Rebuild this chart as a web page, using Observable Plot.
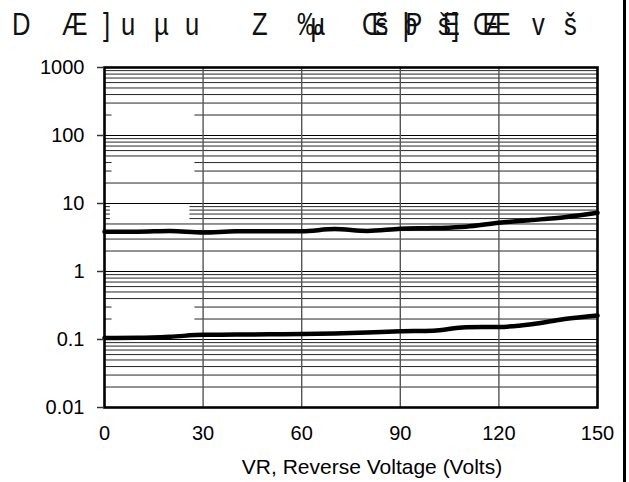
<!DOCTYPE html>
<html><head><meta charset="utf-8">
<script src="https://cdn.jsdelivr.net/npm/d3@7"></script>
<script src="https://cdn.jsdelivr.net/npm/@observablehq/plot@0.6"></script>
<style>
body{margin:0;background:#fff;}
#wrap{position:relative;width:629px;height:482px;overflow:hidden;background:#fff;font-family:"Liberation Sans",Arial,sans-serif;}
#title{position:relative;height:45px;width:629px;}
#title span{position:absolute;top:8px;font-size:32px;line-height:32px;color:#111;white-space:pre;transform-origin:left center;transform:scaleX(0.8);}
#edge{position:absolute;left:623px;top:0;width:3px;height:482px;background:#000;}
svg{display:block;}
</style></head>
<body>
<div id="wrap"><div id="title"></div><div id="chart"></div><div id="edge"></div></div>
<script>
// ---- data ----
const voltage = [0, 10, 20, 30, 40, 50, 60, 70, 80, 90, 100, 110, 120, 130, 140, 150];
const currentHigh = [3.85, 3.85, 3.95, 3.75, 3.9, 3.9, 3.9, 4.2, 3.95, 4.25, 4.35, 4.55, 5.2, 5.7, 6.3, 7.3];
const currentLow = [0.105, 0.106, 0.11, 0.117, 0.118, 0.119, 0.12, 0.123, 0.127, 0.132, 0.135, 0.152, 0.153, 0.168, 0.2, 0.225];
const xTicks = [0, 30, 60, 90, 120, 150];
const yTicks = [0.01, 0.1, 1, 10, 100, 1000];
const yTickLabels = ["0.01", "0.1", "1", "10", "100", "1000"];
const minorFull = [300,400,500,600,700,800,900, 20,50,60,70,80,90, 2,3,4,5, 0.4,0.5,0.6,0.7,0.8,0.9, 0.02,0.03,0.04,0.05,0.06,0.07,0.08,0.09];
const minorPartialA = [200, 30, 40, 0.3, 0.2];
const minorPartialB = [6, 7, 8, 9];
const xLabel = "VR, Reverse Voltage (Volts)";
// garbled title glyph groups (overlapping glyphs kept together in one text)
const titleGroups = ["D", "Æ", "]", "u", "µ", "u", "Z", "‰µ", "Œš", "þP", "šE]", "ŒÆ", "v", "š"];

// ---- title layout ----
const titleX = [12, 62, 103, 121, 154, 185, 252, 297, 362, 403, 438, 473, 532, 564];
const titleSpacing = [0, 0, 0, 0, 0, 0, 0, -15, -15, -15, -10, -17, 0, 0];
const t = document.getElementById("title");
titleGroups.forEach((g, i) => {
  const s = document.createElement("span");
  s.textContent = g;
  s.style.left = titleX[i] + "px";
  s.style.letterSpacing = titleSpacing[i] + "px";
  t.appendChild(s);
});

// ---- chart ----
const rows = voltage.flatMap((v, i) => [
  {v, c: currentHigh[i], s: "high"},
  {v, c: currentLow[i], s: "low"}
]);

const grid = {stroke: "#000", strokeWidth: 1, strokeOpacity: 0.85};

const chart = Plot.plot({
  width: 629,
  height: 437,
  marginLeft: 104,
  marginRight: 32,
  marginTop: 22,
  marginBottom: 75,
  x: {domain: [0, 150]},
  y: {type: "log", domain: [0.01, 1000]},
  style: {fontFamily: "Liberation Sans, Arial, sans-serif", fontSize: "20px", color: "#000", background: "#fff"},
  marks: [
    Plot.ruleY(minorFull, grid),
    Plot.ruleY(minorPartialA, {...grid, x1: 0, x2: 2.3}),
    Plot.ruleY(minorPartialA, {...grid, x1: 27.5, x2: 150}),
    Plot.ruleY(minorPartialB, {...grid, x1: 0, x2: 1.8}),
    Plot.ruleY(minorPartialB, {...grid, x1: 26, x2: 150}),
    Plot.ruleY(yTicks.slice(1, -1), {stroke: "#000", strokeWidth: 1.2}),
    Plot.ruleX(xTicks.slice(1, -1), {stroke: "#555", strokeWidth: 1.4}),
    Plot.line(rows, {x: "v", y: "c", z: "s", stroke: "#000", strokeWidth: 4.5, curve: "monotone-x"}),
    Plot.frame({stroke: "#000", strokeWidth: 2.6}),
    Plot.axisY({ticks: yTicks, tickFormat: d => yTickLabels[yTicks.indexOf(d)], tickSize: 7, tickPadding: 13, label: null, fontSize: 20, stroke: "#333", strokeWidth: 1.5}),
    Plot.axisX({ticks: xTicks, tickFormat: d => String(d), tickSize: 0, tickPadding: 18, label: null, fontSize: 20}),
    Plot.text([xLabel], {frameAnchor: "bottom", dy: 60, dx: 21, lineAnchor: "middle", fontSize: 21, fill: "#000"})
  ]
});
document.getElementById("chart").appendChild(chart);
</script>
</body></html>
